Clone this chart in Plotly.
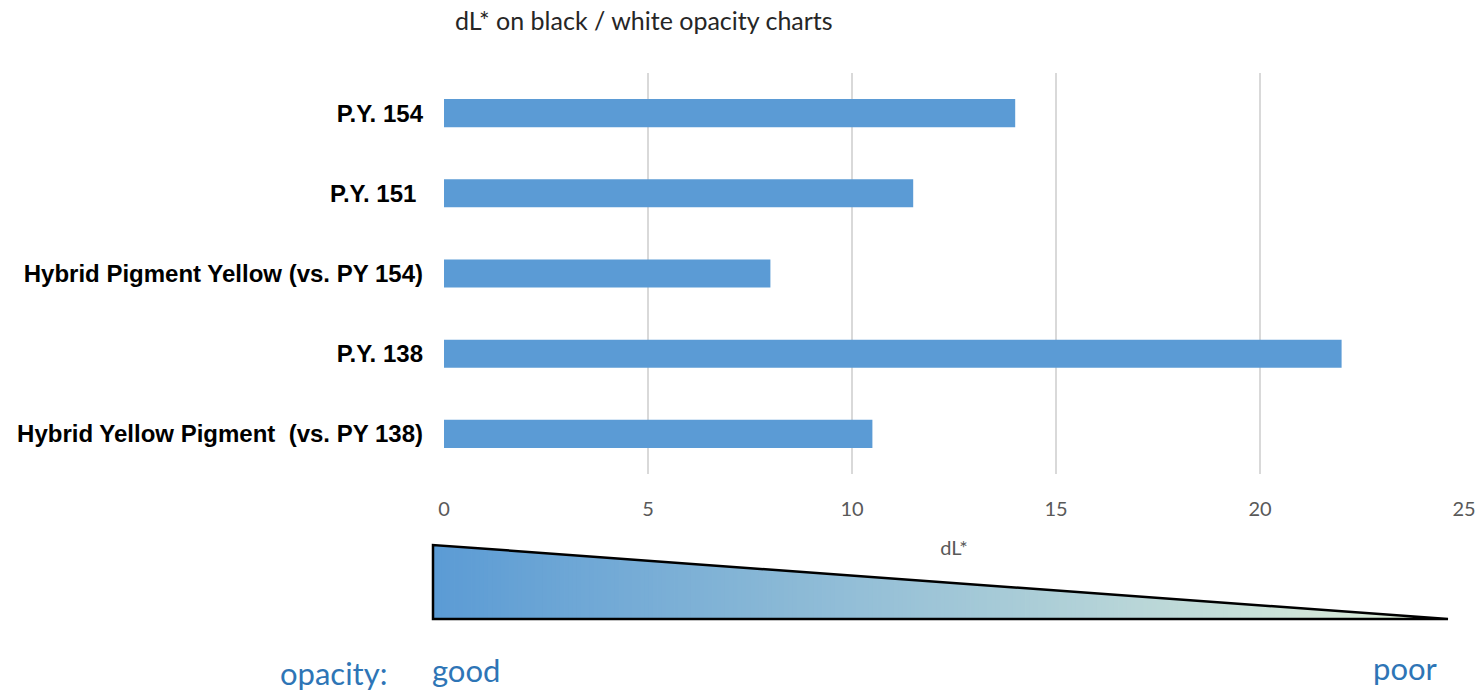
import plotly.graph_objects as go

# Pigment samples and their dL* difference on black/white opacity charts
pigments = [
    "P.Y. 154",
    "P.Y. 151 ",
    "Hybrid Pigment Yellow (vs. PY 154)",
    "P.Y. 138",
    "Hybrid Yellow Pigment  (vs. PY 138)",
]
dl_values = [14.0, 11.5, 8.0, 22.0, 10.5]
x_ticks = [0, 5, 10, 15, 20, 25]

W, H = 1481, 692
M_L, M_R, M_T, M_B = 444, 17, 73, 218
PLOT_W = W - M_L - M_R
PLOT_H = H - M_T - M_B

BAR_BLUE = "#5B9BD5"
TEXT_BLUE = "#2E75B6"
SANS = "Lato, 'Open Sans', sans-serif"


def px_x(px):
    """Pixel column -> paper x."""
    return (px - M_L) / PLOT_W


def px_y(py):
    """Pixel row -> paper y."""
    return (H - M_B - py) / PLOT_H


fig = go.Figure(
    go.Bar(
        x=dl_values,
        y=pigments,
        orientation="h",
        marker=dict(color=BAR_BLUE, line=dict(width=0)),
        width=0.35,
        hoverinfo="x+y",
    )
)

# Opacity scale: a wedge shaded from blue (good) to pale green (poor)
left_px, right_px = 433, 1448
top_px, bottom_px = 545, 619
c0 = (0x5B, 0x9B, 0xD5)
c1 = (0xE2, 0xF0, 0xD9)
n_slices = 240
shapes = []
for i in range(n_slices):
    t0 = i / n_slices
    t1 = (i + 1) / n_slices
    tm = (t0 + t1) / 2
    xa = left_px + t0 * (right_px - left_px)
    xb = left_px + t1 * (right_px - left_px) + 0.8
    ya = top_px + t0 * (bottom_px - top_px)
    yb = top_px + min(t1 + 0.8 / (right_px - left_px), 1) * (bottom_px - top_px)
    col = tuple(round(c0[k] + (c1[k] - c0[k]) * tm) for k in range(3))
    path = (
        f"M {px_x(xa)},{px_y(bottom_px)} L {px_x(xa)},{px_y(ya)} "
        f"L {px_x(xb)},{px_y(yb)} L {px_x(xb)},{px_y(bottom_px)} Z"
    )
    shapes.append(
        dict(
            type="path",
            path=path,
            xref="paper",
            yref="paper",
            fillcolor=f"rgb{col}",
            line=dict(width=0),
            layer="above",
        )
    )
outline = (
    f"M {px_x(left_px)},{px_y(bottom_px)} L {px_x(left_px)},{px_y(top_px)} "
    f"L {px_x(right_px)},{px_y(bottom_px)} Z"
)
shapes.append(
    dict(
        type="path",
        path=outline,
        xref="paper",
        yref="paper",
        fillcolor="rgba(0,0,0,0)",
        line=dict(color="black", width=2.5),
        layer="above",
    )
)

label_font = dict(family=SANS, size=31, color=TEXT_BLUE)
annotations = [
    dict(text="opacity:", x=px_x(389), y=px_y(673), xanchor="right", yanchor="middle"),
    dict(text="good", x=px_x(430), y=px_y(670), xanchor="left", yanchor="middle"),
    dict(text="poor", x=px_x(1440), y=px_y(668), xanchor="right", yanchor="middle"),
]
for a in annotations:
    a.update(xref="paper", yref="paper", showarrow=False, font=label_font)

fig.update_layout(
    width=W,
    height=H,
    margin=dict(l=M_L, r=M_R, t=M_T, b=M_B, autoexpand=False),
    paper_bgcolor="white",
    plot_bgcolor="white",
    showlegend=False,
    bargap=0.65,
    title=dict(
        text="dL* on black / white opacity charts",
        xref="container",
        yref="container",
        x=455 / W,
        xanchor="left",
        y=1 - 21 / H,
        yanchor="middle",
        font=dict(family=SANS, size=25, color="#262626"),
    ),
    xaxis=dict(
        range=[0, 25],
        tickvals=x_ticks,
        ticks="",
        showline=False,
        zeroline=False,
        showgrid=True,
        gridcolor="#D9D9D9",
        gridwidth=1.5,
        tickfont=dict(family=SANS, size=20, color="#595959"),
        ticklabelstandoff=21,
        title=dict(
            text="dL*",
            standoff=21,
            font=dict(family=SANS, size=20, color="#595959"),
        ),
    ),
    yaxis=dict(
        categoryorder="array",
        categoryarray=pigments,
        autorange="reversed",
        showgrid=False,
        zeroline=False,
        showline=False,
        ticks="",
        ticklabelstandoff=20,
        tickfont=dict(family="'Liberation Sans', Arial, sans-serif", size=24, color="black", weight="bold"),
    ),
    shapes=shapes,
    annotations=annotations,
)

fig.write_html("out.html")
